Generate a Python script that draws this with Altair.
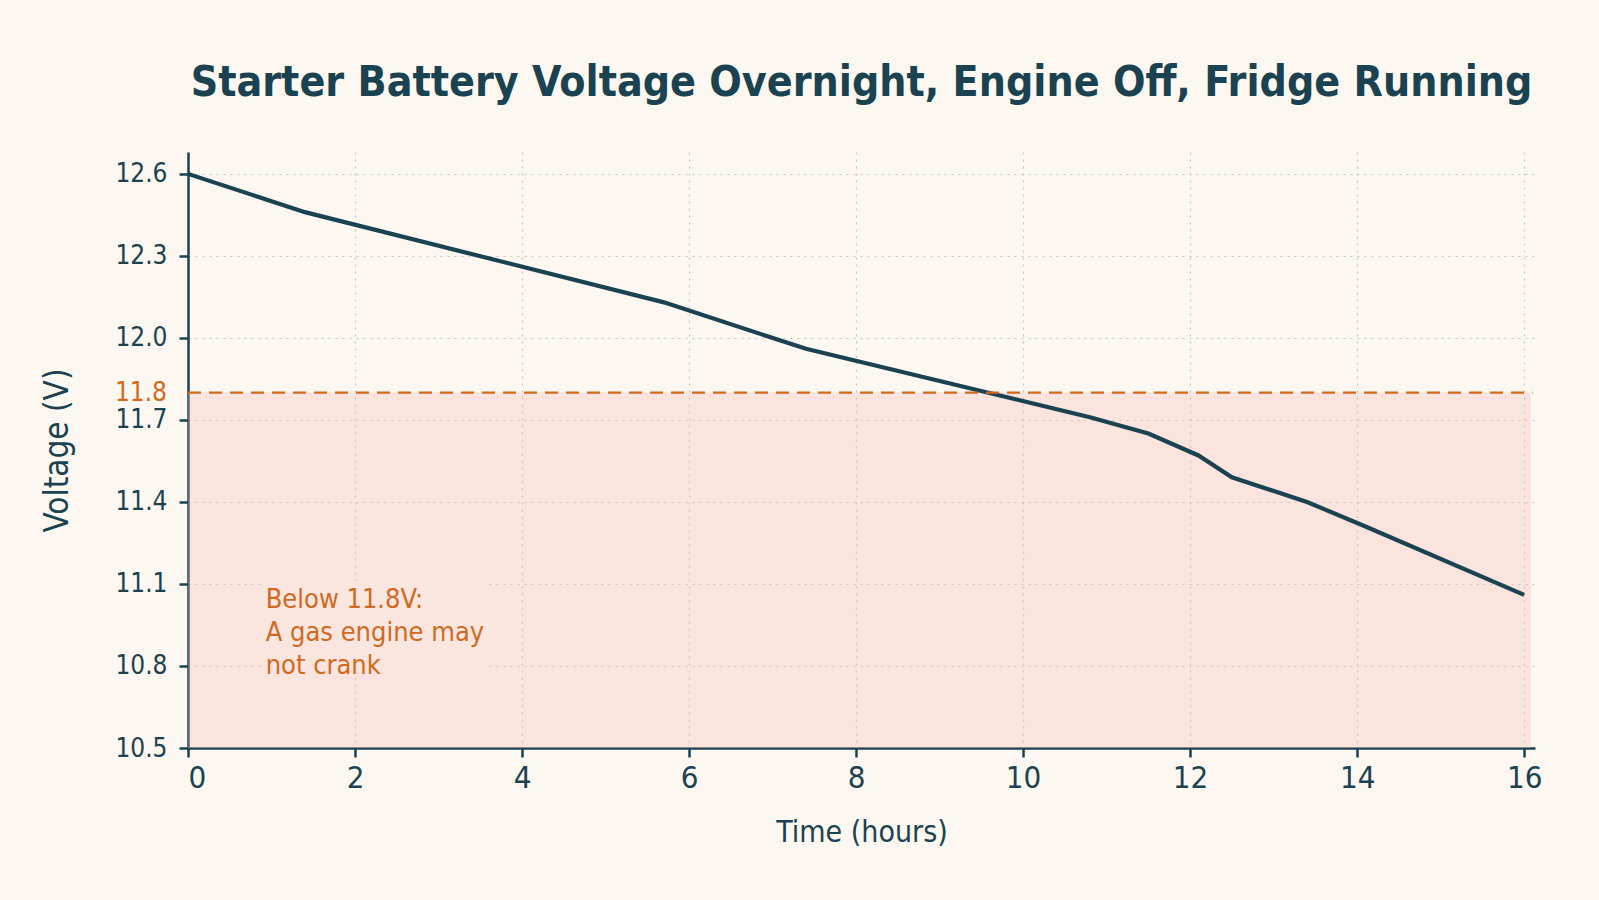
import altair as alt
import pandas as pd

# Starter battery voltage, engine off, fridge running
hours = [0, 1.4, 5.7, 7.4, 10.8, 11.5, 12.1, 12.5, 13.4, 14.1, 16]
volts = [12.6, 12.46, 12.13, 11.96, 11.71, 11.65, 11.57, 11.49, 11.40, 11.31, 11.06]

x_ticks = [0, 2, 4, 6, 8, 10, 12, 14, 16]
y_ticks = [10.5, 10.8, 11.1, 11.4, 11.7, 12.0, 12.3, 12.6]

threshold = 11.8
threshold_label = "11.8"
note_text = "Below 11.8V:\nA gas engine may\nnot crank"

title_text = "Starter Battery Voltage Overnight, Engine Off, Fridge Running"

BG = "#fcf8f1"
INK = "#1b4250"
ORANGE = "#d2691e"
FONT = "DejaVu Sans Condensed, Roboto, sans-serif"

x_scale = alt.Scale(domain=[0, 16.13], nice=False, zero=False)
y_scale = alt.Scale(domain=[10.5, 12.68], nice=False, zero=False)

x_axis = alt.Axis(
    values=x_ticks, title="Time (hours)", format="d",
    labelFontSize=31, labelPadding=6, titleFontSize=30, titlePadding=24,
    tickSize=9, tickWidth=2.5, domainWidth=2.5,
)
y_axis = alt.Axis(
    values=y_ticks, title="Voltage (V)", format=".1f",
    labelFontSize=26, labelPadding=12, titleFontSize=33, titlePadding=40,
    tickSize=9, tickWidth=2.5, domainWidth=2.5,
)

line_df = pd.DataFrame({"hours": hours, "volts": volts})

# shaded zone under the cranking threshold
shade = alt.Chart(pd.DataFrame({"x0": [0], "x1": [16.08], "y0": [10.5], "y1": [threshold]})).mark_rect(
    color="#f5bcb5", opacity=0.32
).encode(
    x=alt.X("x0:Q", scale=x_scale, axis=x_axis),
    x2="x1:Q",
    y=alt.Y("y0:Q", scale=y_scale, axis=y_axis),
    y2="y1:Q",
)

# solid panel behind the note so the grid stays out of the text
note_box = alt.Chart(pd.DataFrame({"x0": [0.88], "x1": [3.6], "y0": [10.79], "y1": [11.11]})).mark_rect(
    color="#fae6df"
).encode(
    x=alt.X("x0:Q", scale=x_scale),
    x2="x1:Q",
    y=alt.Y("y0:Q", scale=y_scale),
    y2="y1:Q",
)

line = alt.Chart(line_df).mark_line(color=INK, strokeWidth=4.2).encode(
    x=alt.X("hours:Q", scale=x_scale),
    y=alt.Y("volts:Q", scale=y_scale),
)

rule = alt.Chart(pd.DataFrame({"x0": [0], "x1": [16.1], "v": [threshold]})).mark_rule(
    color=ORANGE, strokeWidth=2.2, strokeDash=[13, 8]
).encode(
    x=alt.X("x0:Q", scale=x_scale),
    x2="x1:Q",
    y=alt.Y("v:Q", scale=y_scale),
)

rule_label = alt.Chart(pd.DataFrame({"v": [threshold], "t": [threshold_label]})).mark_text(
    color=ORANGE, fontSize=26, font=FONT, align="right", baseline="middle"
).encode(
    x=alt.value(-21),
    y=alt.Y("v:Q", scale=y_scale),
    text="t:N",
)

note = alt.Chart(pd.DataFrame({"x": [0.93], "y": [11.09], "t": [note_text]})).mark_text(
    color=ORANGE, fontSize=27, font=FONT, align="left", baseline="top",
    lineHeight=33, lineBreak="\n"
).encode(
    x=alt.X("x:Q", scale=x_scale),
    y=alt.Y("y:Q", scale=y_scale),
    text="t:N",
)

chart = alt.layer(shade, note_box, line, rule, rule_label, note).properties(
    width=1347,
    height=596,
    padding={"left": 188, "top": 152, "right": 64, "bottom": 152},
    autosize=alt.AutoSizeParams(type="none"),
    background=BG,
    title=alt.TitleParams(
        text=title_text, font=FONT, fontSize=42.5, fontWeight="bold",
        color=INK, anchor="middle", offset=48,
    ),
).configure_view(stroke=None).configure_axis(
    labelFont=FONT, titleFont=FONT, labelColor=INK, titleColor=INK,
    titleFontWeight="normal", domainColor=INK, tickColor=INK,
    gridColor="#c9c3b8", gridDash=[2, 5], gridWidth=1.2,
)

chart.save("out.html", embed_options={"renderer": "svg", "actions": False})
